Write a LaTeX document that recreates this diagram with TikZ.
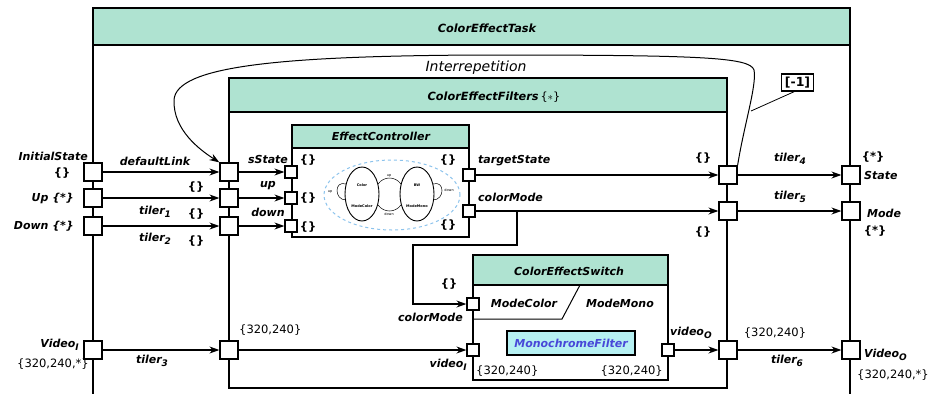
\documentclass[tikz,border=0pt]{standalone}
\usepackage{fontspec}
\setmainfont{DejaVu Sans}
\usetikzlibrary{arrows.meta,calc}
\definecolor{hdrgreen}{HTML}{AFE3D1}
\definecolor{monocyan}{HTML}{B6F0F2}
\definecolor{monoblue}{HTML}{4848D8}
\definecolor{smblue}{HTML}{8CC3EC}
\newcommand{\ix}[1]{\raisebox{-0.4ex}{\fontsize{9}{9}\selectfont #1}}

\begin{document}
\begin{tikzpicture}[x=1pt,y=-1pt,
  lbl/.style={font=\fontsize{11}{12}\selectfont\bfseries\itshape, inner sep=1pt},
  brc/.style={font=\fontsize{11.5}{12}\selectfont\bfseries, inner sep=1pt},
  num/.style={font=\fontsize{11.5}{12}\selectfont, inner sep=1pt},
  tiny/.style={font=\fontsize{3.5}{4}\selectfont, inner sep=0pt},
  bigport/.style={draw, fill=white, line width=1.2pt, minimum size=18pt, inner sep=0pt},
  smallport/.style={draw, fill=white, line width=1.2pt, minimum size=12pt, inner sep=0pt},
  flow/.style={line width=1.2pt, -{Stealth[length=10pt,width=7pt]}},
]
\useasboundingbox (0,0) rectangle (933,394);

% outer task
\draw[line width=1.2pt] (93,45) -- (93,394);
\draw[line width=1.2pt] (850,45) -- (850,394);
\draw[line width=1.8pt, fill=hdrgreen] (93,8) rectangle (850,45);
\node[lbl, font=\fontsize{11.3}{12}\selectfont\bfseries\itshape] (task) at (487,28) {ColorEffectTask};

% filters box
\draw[line width=1.2pt] (229,78) rectangle (727,388);
\draw[line width=1.2pt, fill=hdrgreen] (229,78) rectangle (727,112);
\node[lbl, font=\fontsize{11.3}{12}\selectfont\bfseries\itshape] (filters) at (494,97) {ColorEffectFilters{\normalfont\,\{}$\ast${\normalfont\}}};

% effect controller
\draw[line width=1.2pt] (292,125) rectangle (469,237);
\draw[line width=1.2pt, fill=hdrgreen] (292,125) rectangle (469,148);
\node[lbl] (ctrl) at (381,136) {EffectController};

% small state machine
\draw[smblue, dashed, line width=1pt] (392,195) ellipse [x radius=68pt, y radius=35pt];
\draw[line width=0.9pt] (362,194) ellipse [x radius=17pt, y radius=27pt];
\draw[line width=0.9pt] (417,194) ellipse [x radius=17pt, y radius=27pt];
\node[tiny] (stColor) at (362,185) {\bfseries Color};
\node[tiny] (stModeColor) at (362,206) {\bfseries ModeColor};
\node[tiny] (stBW) at (417,185) {\bfseries BW};
\node[tiny] (stModeMono) at (417,206) {\bfseries ModeMono};
\draw[line width=0.5pt] (378,184) .. controls (384,176) and (395,176) .. (401,184);
\draw[line width=0.5pt] (378,205) .. controls (384,213) and (395,213) .. (401,205);
\draw[line width=0.5pt] (346,184) .. controls (334,180) and (334,200) .. (346,200);
\draw[line width=0.5pt] (433,184) .. controls (445,180) and (445,200) .. (433,200);
\node[tiny] (trUp) at (389,176) {up};
\node[tiny] (trDown) at (389,214) {down};
\node[tiny] (loopUp) at (330,192) {up};
\node[tiny] (loopDown) at (449,190) {down};

% color effect switch
\draw[line width=1.2pt] (473,255) rectangle (668,380);
\draw[line width=1.2pt, fill=hdrgreen] (473,255) rectangle (668,285);
\node[lbl] (switch) at (569,271) {ColorEffectSwitch};
\draw[line width=1pt] (473,319) -- (562,319) -- (580,285);
\node[lbl] (modeColor) at (524,303) {ModeColor};
\node[lbl] (modeMono) at (620,303) {ModeMono};
\node[draw, line width=1.2pt, fill=monocyan, text=monoblue, lbl,
  minimum width=128pt, minimum height=24pt] (mono) at (571,343) {MonochromeFilter};

% ports
\node[bigport] (inInit) at (93,172) {};
\node[bigport] (inUp) at (93,198) {};
\node[bigport] (inDown) at (93,226) {};
\node[bigport] (inVideo) at (93,350) {};
\node[bigport] (fInit) at (229,172) {};
\node[bigport] (fUp) at (229,198) {};
\node[bigport] (fDown) at (229,226) {};
\node[bigport] (fVideo) at (229,350) {};
\node[smallport] (cState) at (291,172) {};
\node[smallport] (cUp) at (291,198) {};
\node[smallport] (cDown) at (291,226) {};
\node[smallport] (cTarget) at (469,175) {};
\node[smallport] (cMode) at (469,211) {};
\node[smallport] (sMode) at (473,304) {};
\node[smallport] (sVidIn) at (473,350) {};
\node[smallport] (sVidOut) at (668,350) {};
\node[bigport] (fState) at (728,175) {};
\node[bigport] (fMode) at (728,211) {};
\node[bigport] (fVidOut) at (728,350) {};
\node[bigport] (outState) at (851,175) {};
\node[bigport] (outMode) at (851,211) {};
\node[bigport] (outVideo) at (851,350) {};

% connectors
\draw[flow] (inInit) -- (fInit);
\draw[flow] (inUp) -- (fUp);
\draw[flow] (inDown) -- (fDown);
\draw[flow] (inVideo) -- (fVideo);
\draw[flow] (fInit) -- (cState);
\draw[flow] (fUp) -- (cUp);
\draw[flow] (fDown) -- (cDown);
\draw[flow] (fVideo) -- (sVidIn);
\draw[flow] (cTarget) -- (fState);
\draw[flow] (cMode) -- (fMode);
\coordinate (split) at (517,211);
\draw[flow] (split) -- (517,245) -- (413,245) |- (sMode);
\draw[flow] (sVidOut) -- (fVidOut);
\draw[flow] (fState) -- (outState);
\draw[flow] (fMode) -- (outMode);
\draw[flow] (fVidOut) -- (outVideo);

% interrepetition
\draw[line width=1pt, -{Stealth[length=10pt,width=7pt]}] (fState.north east)
  .. controls (744,125) and (757,85) .. (754,70)
  .. controls (750,57) and (700,55) .. (480,55)
  .. controls (280,56) and (176,66) .. (174,100)
  .. controls (173,130) and (200,150) .. (fInit.north west);
\node[font=\fontsize{14}{15}\selectfont\itshape] (rep) at (476,68) {Interrepetition};
\node[draw, line width=1.2pt, font=\fontsize{12.5}{13}\selectfont\bfseries, inner sep=3pt] (delay) at (797.5,82.5) {[-1]};
\coordinate (repPt) at (751,111);
\draw[line width=0.8pt] (delay.250) -- (repPt);

% labels, left
\node[lbl, anchor=east] (lInit) at (89,156) {InitialState};
\node[brc] (lInitT) at (62,173) {\{\}};
\node[lbl, anchor=east] (lUp) at (75,198) {Up \{*\}};
\node[lbl, anchor=east] (lDown) at (75,226) {Down \{*\}};
\node[lbl, anchor=east] (lVideo) at (80,345) {Video\ix{I}};
\node[num] (lVideoT) at (53,364) {\{320,240,*\}};
\node[lbl] (defLink) at (155,161) {defaultLink};
\node[lbl] (t1) at (155,212) {tiler\ix{1}};
\node[lbl] (t2) at (155,239) {tiler\ix{2}};
\node[lbl] (t3) at (152,361) {tiler\ix{3}};
\node[brc] (fUpT) at (196,187) {\{\}};
\node[brc] (fUpT2) at (196,214) {\{\}};
\node[brc] (fDownT) at (196,241) {\{\}};
\node[num, anchor=west] (fVideoT) at (238,330) {\{320,240\}};

% labels, controller
\node[lbl] (lState) at (268,159) {sState};
\node[lbl] (lUpIn) at (268,186) {up};
\node[lbl] (lDownIn) at (268,212) {down};
\node[brc] (cStateT) at (308,160) {\{\}};
\node[brc] (cUpT) at (308,198) {\{\}};
\node[brc] (cDownT) at (308,227) {\{\}};
\node[brc] (cTargetT) at (448,160) {\{\}};
\node[brc] (cModeT) at (448,225) {\{\}};
\node[lbl, anchor=west] (lTarget) at (477,161) {targetState};
\node[lbl, anchor=west] (lMode) at (477,197) {colorMode};

% labels, switch
\node[brc] (sModeT) at (449,284) {\{\}};
\node[lbl, anchor=east] (lsMode) at (464,317) {colorMode};
\node[lbl, anchor=east] (lsVid) at (468,365) {video\ix{I}};
\node[num, anchor=west] (sVidInT) at (475,371) {\{320,240\}};
\node[num, anchor=east] (sVidOutT) at (664,371) {\{320,240\}};
\node[lbl, anchor=west] (lsVidOut) at (669,333) {video\ix{O}};

% labels, right
\node[brc] (fStateT) at (703,158) {\{\}};
\node[brc] (fModeT) at (703,232) {\{\}};
\node[num] (fVidOutT) at (775,333) {\{320,240\}};
\node[lbl] (t4) at (790,159) {tiler\ix{4}};
\node[lbl] (t5) at (790,197) {tiler\ix{5}};
\node[lbl] (t6) at (787,361) {tiler\ix{6}};
\node[brc] (outStateT) at (873,157) {\{*\}};
\node[lbl, anchor=west] (lOutState) at (863,175) {State};
\node[lbl, anchor=west] (lOutMode) at (866,213) {Mode};
\node[brc] (outModeT) at (875,231) {\{*\}};
\node[lbl, anchor=west] (lOutVideo) at (863,355) {Video\ix{O}};
\node[num, anchor=west] (outVideoT) at (856,375) {\{320,240,*\}};
\end{tikzpicture}
\end{document}
